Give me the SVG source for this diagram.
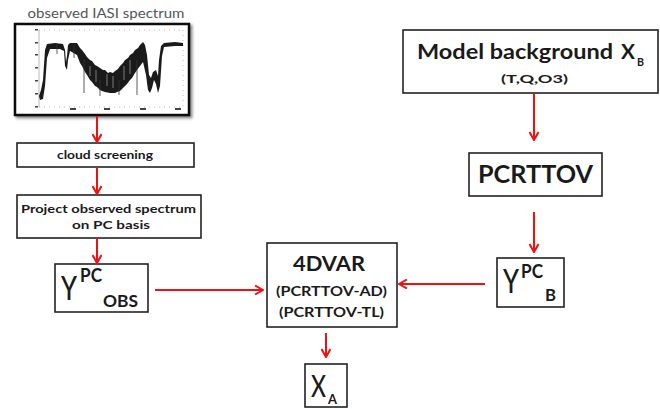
<svg xmlns="http://www.w3.org/2000/svg" width="660" height="409" viewBox="0 0 660 409">
<defs>
<marker id="ah" viewBox="0 0 10 10" refX="9" refY="5" markerWidth="10" markerHeight="10" markerUnits="userSpaceOnUse" orient="auto">
<path d="M1,0.5 L9,5 L1,9.5" fill="none" stroke="#ee1111" stroke-width="2"/>
</marker>
<filter id="sh" x="-10%" y="-10%" width="130%" height="130%">
<feGaussianBlur in="SourceAlpha" stdDeviation="1.5"/>
<feOffset dx="1.5" dy="1.5"/>
<feComponentTransfer><feFuncA type="linear" slope="0.5"/></feComponentTransfer>
<feMerge><feMergeNode/><feMergeNode in="SourceGraphic"/></feMerge>
</filter>
</defs>
<style>
.box{fill:#fff;stroke:#222;stroke-width:1.6}
.t{font-family:Lato,"Open Sans","Liberation Sans",sans-serif;font-weight:bold;fill:#1a1a1a}
.n{font-weight:500}
.c{stroke:#ee1111;stroke-width:2;fill:none;marker-end:url(#ah)}
</style>
<rect width="660" height="409" fill="#fff"/>

<g id="spectrum">
<text x="106" y="18" text-anchor="middle" font-family="Lato,'Open Sans','Liberation Sans',sans-serif" font-size="13" fill="#555" textLength="157" lengthAdjust="spacingAndGlyphs">observed IASI spectrum</text>
<rect x="15" y="24" width="174" height="91" fill="#fff" stroke="#111" stroke-width="2.5" filter="url(#sh)"/>
<g stroke="#aaa" stroke-width="0.8" fill="none">
<line x1="39" y1="30" x2="39" y2="107"/>
<line x1="39" y1="107" x2="183" y2="107" stroke-dasharray="1,4"/>
<line x1="183" y1="30" x2="183" y2="107" stroke-dasharray="1,4"/>
<line x1="39" y1="30" x2="183" y2="30" stroke-dasharray="1,4"/>
</g>
<g fill="#444">
<rect x="35" y="29" width="3" height="1.5"/><rect x="35" y="42" width="3" height="1.5"/><rect x="35" y="54" width="3" height="1.5"/><rect x="35" y="67" width="3" height="1.5"/><rect x="35" y="80" width="3" height="1.5"/><rect x="35" y="93" width="3" height="1.5"/><rect x="35" y="106" width="3" height="1.5"/>
<rect x="70" y="108" width="6" height="2"/><rect x="104" y="108" width="6" height="2"/><rect x="140" y="108" width="6" height="2"/><rect x="175" y="108" width="6" height="2"/>
</g>
<polygon fill="#1a1a1a" points="39,96 41,90 43,80 45,50 47,44 55,43 63,44 65,50 66,62 67,56 68,45 70,43 77,43 80,48 82,50 85,54 87,57 90,60 92,61 95,65 97,66 100,68 103,70 105,70 108,73 110,72 113,73 115,71 118,69 120,66 123,63 125,60 128,58 130,55 133,53 135,50 138,48 140,45 143,42 145,45 147,55 149,75 151,78 153,72 156,70 158,76 159,60 161,46 164,43 175,42 183,43 183,46 175,46 164,47 162,56 160,86 158,93 156,84 154,80 152,88 150,93 148,90 146,75 143,62 140,66 137,70 135,73 132,78 130,80 127,84 125,86 122,89 120,91 117,92 115,93 110,93 105,92 102,91 100,90 97,87 95,86 92,82 90,80 87,75 85,72 82,66 80,63 77,55 70,51 68,60 67,70 65,66 64,51 60,49 50,49 47,58 45,86 43,99 40,100"/>
<g stroke="#333" stroke-width="0.8">
<line x1="84" y1="60" x2="84" y2="93"/><line x1="137" y1="60" x2="137" y2="95"/><line x1="100" y1="80" x2="100" y2="96"/><line x1="119" y1="80" x2="119" y2="95"/><line x1="74" y1="44" x2="74" y2="58"/><line x1="57" y1="45" x2="57" y2="54"/>
</g>
<g stroke="#fff" stroke-width="0.6" opacity="0.7">
<line x1="90" y1="66" x2="90" y2="76"/><line x1="96" y1="70" x2="96" y2="82"/><line x1="107" y1="74" x2="107" y2="86"/><line x1="113" y1="76" x2="113" y2="88"/><line x1="124" y1="66" x2="124" y2="80"/><line x1="130" y1="60" x2="130" y2="74"/>
</g>
</g>

<g id="cloud">
<rect class="box" x="17" y="143" width="177" height="24"/>
<text class="t" x="105" y="159" font-size="11" text-anchor="middle" textLength="96" lengthAdjust="spacingAndGlyphs">cloud screening</text>
</g>

<g id="project">
<rect class="box" x="17" y="195" width="184" height="43"/>
<text class="t" x="108.5" y="213" font-size="11" text-anchor="middle" textLength="175" lengthAdjust="spacingAndGlyphs">Project observed spectrum</text>
<text class="t" x="111" y="229" font-size="11" text-anchor="middle" textLength="78" lengthAdjust="spacingAndGlyphs">on PC basis</text>
</g>

<g id="ypcobs">
<rect class="box" x="55" y="264" width="93" height="48"/>
<text class="t n" x="61" y="300" font-size="32" textLength="16" lengthAdjust="spacingAndGlyphs">Y</text>
<text class="t" x="80" y="282" font-size="19" textLength="22" lengthAdjust="spacingAndGlyphs">PC</text>
<text class="t" x="103" y="307" font-size="17" textLength="35" lengthAdjust="spacingAndGlyphs">OBS</text>
</g>

<g id="fourdvar">
<rect class="box" x="267" y="243" width="130" height="84"/>
<text class="t" x="329" y="271" font-size="20" text-anchor="middle" textLength="72" lengthAdjust="spacingAndGlyphs">4DVAR</text>
<text class="t" x="331.5" y="296" font-size="14" text-anchor="middle" textLength="111" lengthAdjust="spacingAndGlyphs">(PCRTTOV-AD)</text>
<text class="t" x="331.5" y="317" font-size="14" text-anchor="middle" textLength="105" lengthAdjust="spacingAndGlyphs">(PCRTTOV-TL)</text>
</g>

<g id="xa">
<rect class="box" x="305" y="364" width="42" height="43"/>
<text class="t n" x="311" y="397" font-size="30" textLength="15" lengthAdjust="spacingAndGlyphs">X</text>
<text class="t" x="328" y="404" font-size="14" textLength="9" lengthAdjust="spacingAndGlyphs">A</text>
</g>

<g id="model">
<rect class="box" x="403" y="30" width="255" height="63"/>
<text class="t" x="417" y="59" font-size="21" textLength="196" lengthAdjust="spacingAndGlyphs">Model background</text>
<text class="t" x="621" y="59" font-size="21" textLength="14" lengthAdjust="spacingAndGlyphs">X</text>
<text class="t" x="637" y="66" font-size="11" textLength="7" lengthAdjust="spacingAndGlyphs">B</text>
<text class="t" x="534.5" y="83" font-size="12" text-anchor="middle" textLength="67" lengthAdjust="spacingAndGlyphs">(T,Q,O3)</text>
</g>

<g id="pcrttov">
<rect class="box" x="469" y="153" width="133" height="43"/>
<text class="t" x="535.5" y="183" font-size="24" text-anchor="middle" textLength="115" lengthAdjust="spacingAndGlyphs">PCRTTOV</text>
</g>

<g id="ypcb">
<rect class="box" x="497" y="258" width="67" height="49"/>
<text class="t n" x="503" y="293" font-size="32" textLength="16" lengthAdjust="spacingAndGlyphs">Y</text>
<text class="t" x="521" y="278" font-size="19" textLength="22" lengthAdjust="spacingAndGlyphs">PC</text>
<text class="t" x="545" y="301" font-size="17" textLength="11" lengthAdjust="spacingAndGlyphs">B</text>
</g>

<g id="connectors">
<line class="c" x1="97" y1="116" x2="97" y2="142"/>
<line class="c" x1="97" y1="167" x2="97" y2="194"/>
<line class="c" x1="97" y1="238" x2="97" y2="263"/>
<line class="c" x1="155" y1="290" x2="263" y2="290"/>
<line class="c" x1="485" y1="284" x2="399" y2="284"/>
<line class="c" x1="534" y1="94" x2="534" y2="140"/>
<line class="c" x1="534" y1="212" x2="534" y2="252"/>
<line class="c" x1="326" y1="333" x2="326" y2="357"/>
</g>
</svg>
